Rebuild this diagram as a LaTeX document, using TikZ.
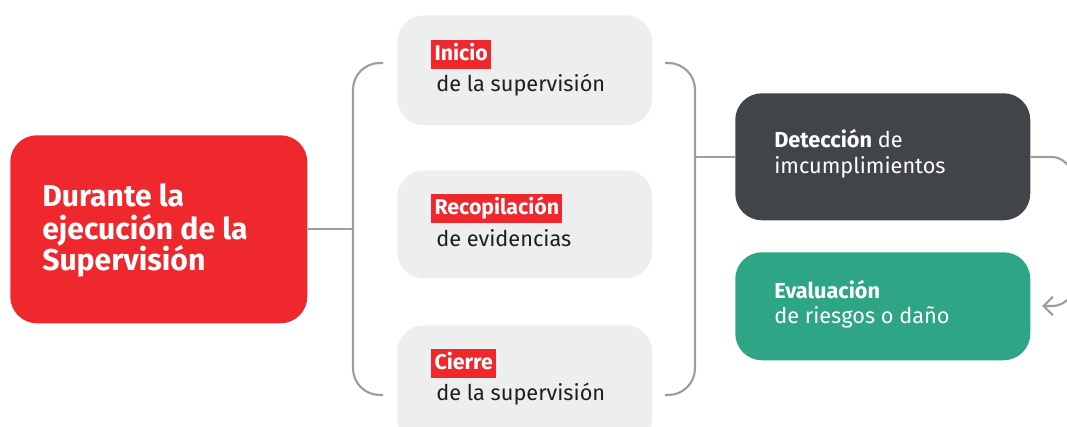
\documentclass[tikz,border=0pt]{standalone}
\usepackage{fontspec}
\setmainfont{Fira Sans}
\usetikzlibrary{arrows.meta}
\definecolor{cred}{HTML}{EE282D}
\definecolor{cgray}{HTML}{EDEEEE}
\definecolor{cdark}{HTML}{414549}
\definecolor{cgreen}{HTML}{2EA585}
\definecolor{cline}{HTML}{9C9E9E}
\definecolor{ctext}{HTML}{1E1E1E}
\begin{document}
\begin{tikzpicture}[x=0.75pt,y=-0.75pt,
  box/.style={rounded corners=20pt, inner sep=0pt, anchor=north west},
  graybox/.style={box, fill=cgray, minimum width=255*0.75pt},
  hl/.style={fill=cred, text=white, font=\fontsize{16}{19}\selectfont\bfseries, anchor=base west, inner xsep=2.5pt, inner ysep=0pt, text height=15.75pt, text depth=6pt},
  sub/.style={text=ctext, font=\fontsize{16.3}{19}\selectfont, anchor=base west, inner sep=0pt},
  wtext/.style={text=white, font=\fontsize{16.3}{19}\selectfont, anchor=base west, inner sep=0pt},
  title/.style={text=white, font=\fontsize{22.6}{26}\selectfont\bfseries, anchor=base west, inner sep=0pt},
  conn/.style={draw=cline, line width=1.6pt}
]
\useasboundingbox (0,0) rectangle (1067,427);
\begin{scope}
\clip (0,0) rectangle (1067,427);
% red main box
\node[box, fill=cred, minimum width=297*0.75pt, minimum height=188*0.75pt] (main) at (10,135) {};
\node[title] (m1) at (42,207) {Durante la};
\node[title] (m2) at (42,240) {ejecución de la};
\node[title] (m3) at (42,271) {Supervisión};
% gray boxes
\node[graybox, minimum height=110*0.75pt] (b1) at (397,15) {};
\node[graybox, minimum height=108*0.75pt] (b2) at (397,170) {};
\node[graybox, minimum height=120*0.75pt] (b3) at (397,325) {};
\node[hl] (h1) at (431,61) {Inicio};
\node[sub] (s1) at (436,92) {de la supervisión};
\node[hl] (h2) at (431,215) {Recopilación};
\node[sub] (s2) at (436,247) {de evidencias};
\node[hl] (h3) at (431,370) {Cierre};
\node[sub] (s3) at (436,401) {de la supervisión};
% right boxes
\node[box, fill=cdark, minimum width=295*0.75pt, minimum height=127*0.75pt] (det) at (735,93) {};
\node[wtext] (d1) at (774,148) {\textbf{Detección} de};
\node[wtext] (d2) at (774,174) {imcumplimientos};
\node[box, fill=cgreen, minimum width=295*0.75pt, minimum height=108*0.75pt] (eva) at (735,252) {};
\node[wtext] (e1) at (774,299) {\textbf{Evaluación}};
\node[wtext] (e2) at (774,324) {de riesgos o daño};
% brackets
\coordinate (lbt) at (383,63);
\coordinate (lbb) at (383,395);
\coordinate (lbm) at (353,229);
\coordinate (rbt) at (665,63);
\coordinate (rbb) at (665,395);
\coordinate (rbm) at (695,157);
\draw[conn, rounded corners=20pt] (lbt) -- (353,63) -- (353,395) -- (lbb);
\draw[conn, rounded corners=20pt] (rbt) -- (695,63) -- (695,395) -- (rbb);
\draw[conn] (main.east |- lbm) -- (lbm);
\draw[conn] (rbm) -- (det.west |- rbm);
% exits to the right
\coordinate (outa) at (1070,168);
\coordinate (outb) at (1070,297);
\coordinate (tip) at (1042,306);
\draw[conn] (det.east |- rbm) -- (1052,157) .. controls (1060,157) and (1066,162) .. (outa);
\draw[conn, -{Straight Barb[length=7pt,width=14pt,line width=1.6pt]}] (outb) .. controls (1064,304) and (1058,306) .. (1052,306) -- (tip);
\end{scope}
\end{tikzpicture}
\end{document}
